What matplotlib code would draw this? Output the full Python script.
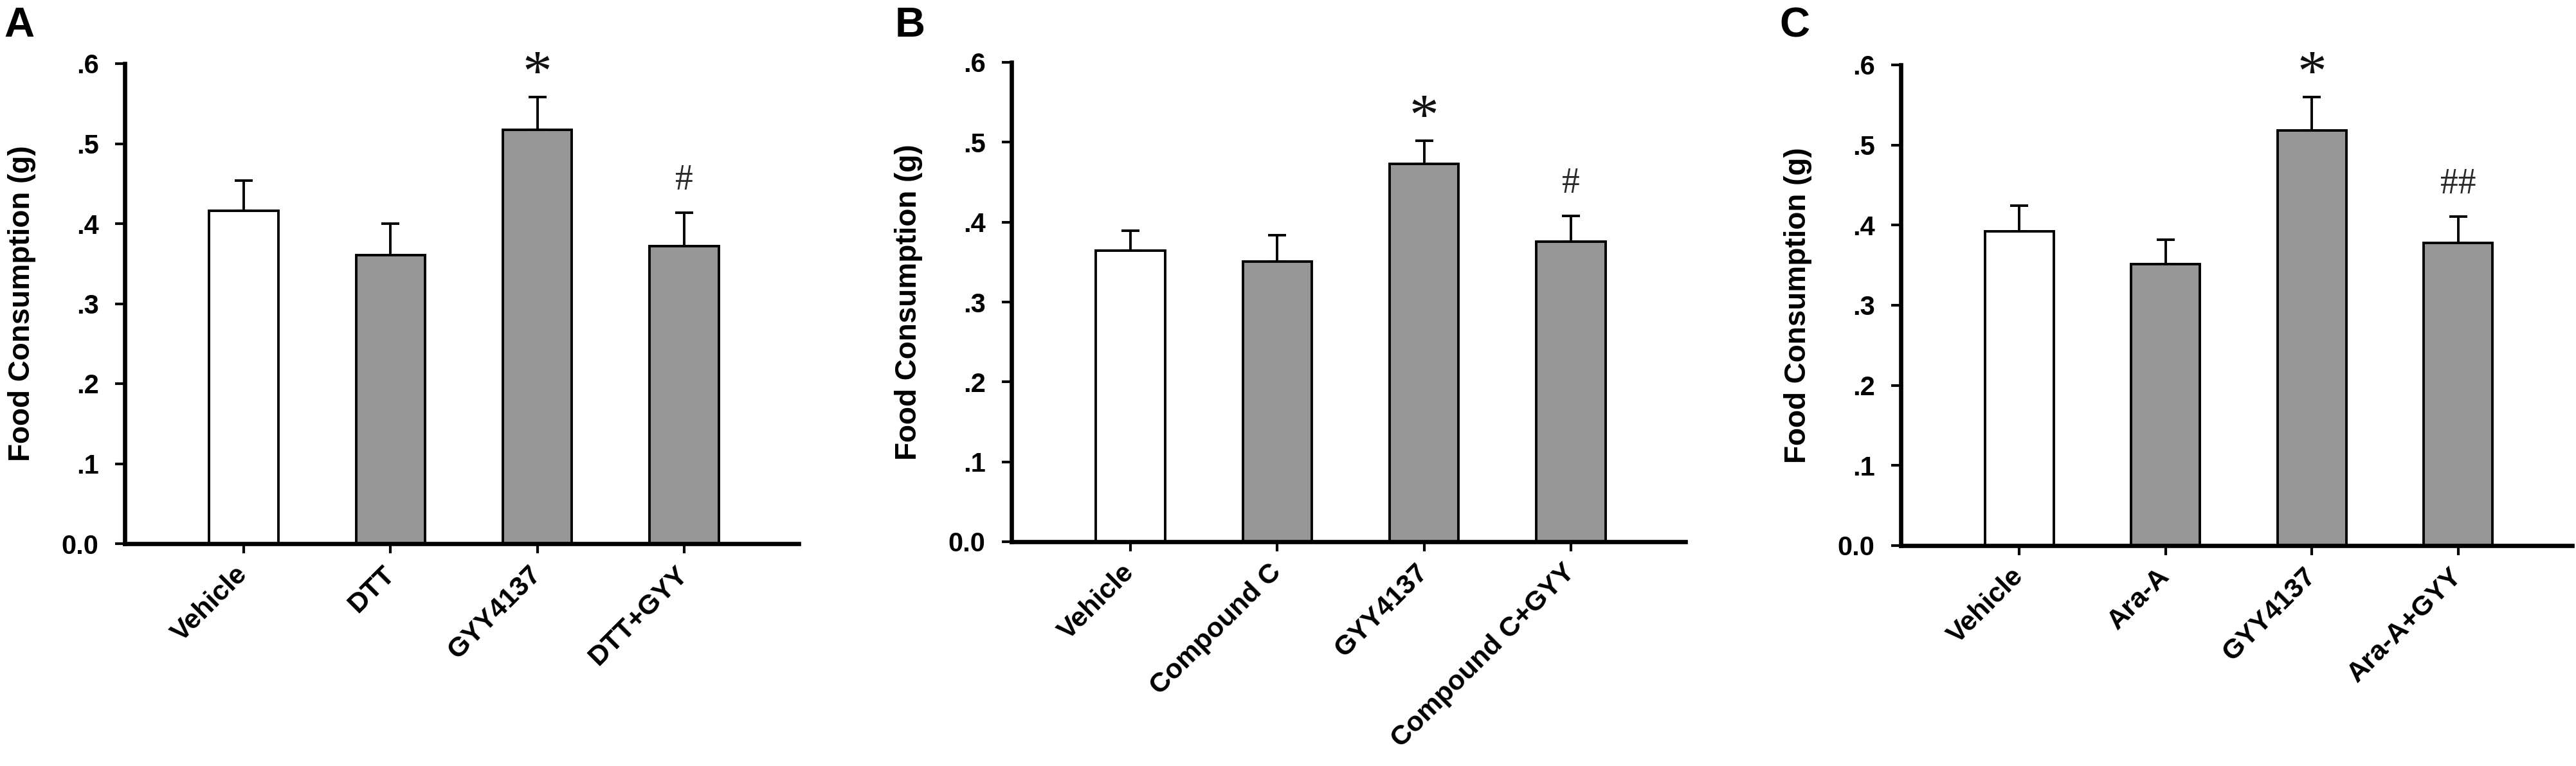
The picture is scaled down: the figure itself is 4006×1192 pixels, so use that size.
import matplotlib
matplotlib.use("Agg")
import matplotlib.pyplot as plt
import matplotlib.transforms as mtransforms
import numpy as np

plt.rcParams["font.family"] = ["Liberation Sans", "DejaVu Sans"]

# --- data ---
labels_a = ["Vehicle", "DTT", "GYY4137", "DTT+GYY"]
mean_a = [0.416, 0.361, 0.517, 0.372]
sem_a = [0.038, 0.039, 0.041, 0.042]
marks_a = ["", "", "*", "#"]

labels_b = ["Vehicle", "Compound C", "GYY4137", "Compound C+GYY"]
mean_b = [0.364, 0.351, 0.473, 0.376]
sem_b = [0.025, 0.033, 0.029, 0.032]
marks_b = ["", "", "*", "#"]

labels_c = ["Vehicle", "Ara-A", "GYY4137", "Ara-A+GYY"]
mean_c = [0.392, 0.351, 0.518, 0.378]
sem_c = [0.032, 0.031, 0.042, 0.033]
marks_c = ["", "", "*", "##"]

yticks = [0.0, 0.1, 0.2, 0.3, 0.4, 0.5, 0.6]
ytick_labels = ["0.0", ".1", ".2", ".3", ".4", ".5", ".6"]

FILL = ["white", "#969696", "#969696", "#969696"]
W, H = 4006, 1192


def panel(fig, rect, letter, letter_x, labels, means, sems, marks):
    ax = fig.add_axes(rect)
    x = np.arange(len(labels))
    ax.bar(x, means, width=0.47, color=FILL, edgecolor="black", linewidth=2.8, zorder=2)
    ax.errorbar(x, means, yerr=[np.zeros(len(sems)), sems], fmt="none", ecolor="black",
                elinewidth=2.8, capsize=10, capthick=2.8, zorder=1)
    for xi, m, s, mk in zip(x, means, sems, marks):
        if mk == "*":
            ax.text(xi, m + s + 0.026, "*", ha="center", va="center", fontsize=66,
                    family="Liberation Serif", color="#111111")
        elif mk:
            ax.text(xi, m + s + 0.040, mk, ha="center", va="center", fontsize=40,
                    family="Liberation Serif", color="#2a2a2a")

    ax.set_xlim(-0.81, 3.78)
    ax.set_ylim(0, 0.6)
    ax.set_yticks(yticks)
    ax.set_yticklabels(ytick_labels, fontsize=30, fontweight="bold")
    ax.set_xticks(x)
    ax.set_xticklabels(labels, fontsize=31, fontweight="bold", rotation=45,
                       ha="right", va="center", rotation_mode="anchor")
    shift = mtransforms.ScaledTranslation(0.17, 0, fig.dpi_scale_trans)
    for lab in ax.get_xticklabels():
        lab.set_transform(lab.get_transform() + shift)
    ax.set_ylabel("Food Consumption (g)", fontsize=33, fontweight="bold", labelpad=29)
    for side in ["top", "right"]:
        ax.spines[side].set_visible(False)
    for side in ["left", "bottom"]:
        ax.spines[side].set_linewidth(4.8)
    ax.tick_params(axis="both", direction="out", length=11, width=3)
    ax.tick_params(axis="y", pad=18)
    ax.tick_params(axis="x", pad=19)
    fig.text(letter_x / W, 1 - 10 / H, letter, fontsize=47, fontweight="bold", ha="left", va="top")
    return ax


fig = plt.figure(figsize=(W / 100, H / 100), dpi=100)
panel(fig, [194 / W, (H - 846) / H, 1048 / W, 747 / H], "A", 6, labels_a, mean_a, sem_a, marks_a)
panel(fig, [1573 / W, (H - 843) / H, 1048 / W, 746 / H], "B", 1392, labels_b, mean_b, sem_b, marks_b)
panel(fig, [2956 / W, (H - 849) / H, 1044 / W, 748 / H], "C", 2767, labels_c, mean_c, sem_c, marks_c)

fig.savefig("out.png", dpi=100)
